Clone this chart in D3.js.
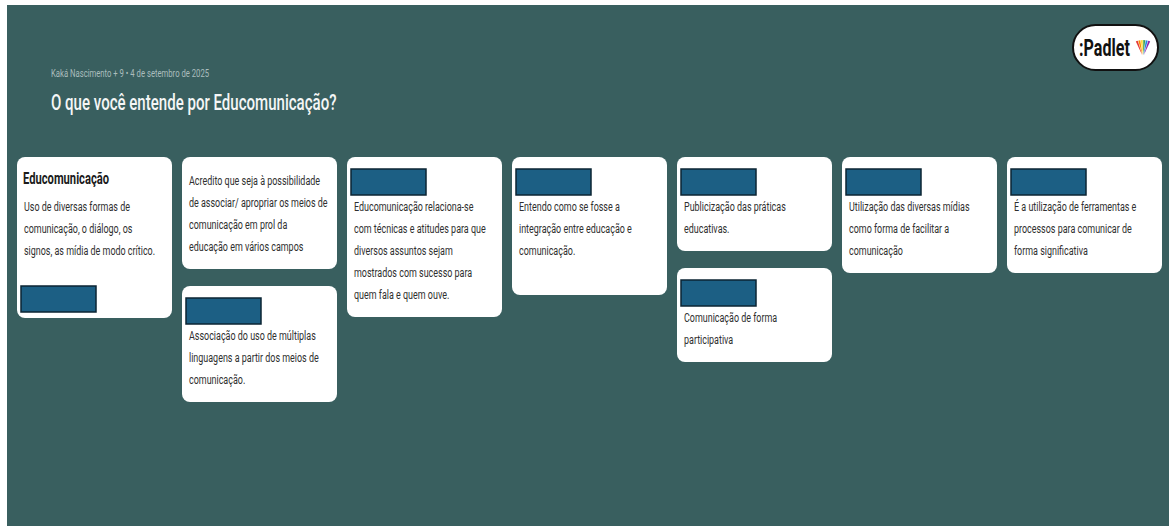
<!DOCTYPE html>
<html>
<head>
<meta charset="utf-8">
<script src="https://cdn.jsdelivr.net/npm/d3@7"></script>
<style>
  body { margin: 0; background: #fff; }
  svg { display: block; font-family: Roboto, "Noto Sans", sans-serif; }
</style>
</head>
<body>
<div class="canva"></div>
<script>
// board content
const boardAuthor = "Kaká Nascimento + 9 • 4 de setembro de 2025";
const boardTitle = "O que você entende por Educomunicação?";

const columns = [0, 1, 2, 3, 4, 5, 6];

// one entry per post
const postColumn = [0, 1, 1, 2, 3, 4, 4, 5, 6];
const postTitle = ["Educomunicação", "", "", "", "", "", "", "", ""];
// where the (hidden) author name sits
const postName = ["bottom", "none", "top", "top", "top", "top", "top", "top", "top"];
const postLines = [
  ["Uso de diversas formas de", "comunicação, o diálogo, os", "signos, as mídia de modo crítico."],
  ["Acredito que seja à possibilidade", "de associar/ apropriar os meios de", "comunicação em prol da", "educação em vários campos"],
  ["Associação do uso de múltiplas", "linguagens a partir dos meios de", "comunicação."],
  ["Educomunicação relaciona-se", "com técnicas e atitudes para que", "diversos assuntos sejam", "mostrados com sucesso para", "quem fala e quem ouve."],
  ["Entendo como se fosse a", "integração entre educação e", "comunicação.", ""],
  ["Publicização das práticas", "educativas."],
  ["Comunicação de forma", "participativa"],
  ["Utilização das diversas mídias", "como forma de facilitar a", "comunicação"],
  ["É a utilização de ferramentas e", "processos para comunicar de", "forma significativa"]
];

const logoColors = ["#e53935", "#fb8c00", "#fdd835", "#43a047", "#1e88e5", "#8e24aa"];

const W = 1169, H = 526;
const squeeze = 0.7;   // the screenshot is narrow horizontally

const svg = d3.select(".canva").append("svg")
    .attr("width", W)
    .attr("height", H);

// teal board
svg.append("rect")
    .attr("x", 7).attr("y", 5)
    .attr("width", W - 7).attr("height", H - 5)
    .attr("fill", "#395f5f");

function sText(g, x, y, txt) {
  return g.append("text")
      .attr("transform", `translate(${x},${y}) scale(${squeeze},1)`)
      .text(txt);
}

sText(svg, 51, 77, boardAuthor)
    .style("font-size", "11px")
    .attr("fill", "#aabdbd");

sText(svg, 51, 110, boardTitle)
    .style("font-size", "21.5px")
    .style("font-weight", 500)
    .attr("fill", "#f4f6f6");

// padlet logo
const logo = svg.append("g").attr("transform", "translate(1073,25)");
logo.append("rect")
    .attr("width", 85).attr("height", 45)
    .attr("rx", 22.5)
    .attr("fill", "#fff")
    .attr("stroke", "#111")
    .attr("stroke-width", 2);
sText(logo, 6, 31, ":Padlet")
    .style("font-size", "23px")
    .style("font-weight", 700)
    .attr("fill", "#111");

const pie = d3.pie().value(1).sort(null).startAngle(-0.45).endAngle(0.45);
const petal = d3.arc().innerRadius(2).outerRadius(17).padAngle(0.03);
logo.append("g")
    .attr("transform", "translate(70,32)")
    .selectAll("path")
    .data(pie(logoColors))
    .join("path")
    .attr("d", petal)
    .attr("fill", d => d.data);

// columns
const x = d3.scaleBand()
    .domain(columns)
    .range([17, 1162])
    .paddingInner(10 / 165)
    .paddingOuter(0);

const lineStep = 22;
const gap = 17;
const top0 = 157;
const nameH = 26, nameW = 75;
const baseShift = 4;

// stack posts in each column
const colBottom = columns.map(() => top0 - gap);
const posts = postLines.map((lines, i) => {
  const c = postColumn[i];
  const y0 = colBottom[c] + gap;
  let first;
  if (postTitle[i]) first = y0 + 50;
  else if (postName[i] === "top") first = y0 + 12 + nameH + 12;
  else first = y0 + 24;
  const last = first + (lines.length - 1) * lineStep;
  let bottom = last + lineStep;
  let nameY = y0 + 12;
  if (postName[i] === "bottom") {
    nameY = last + 35;
    bottom = nameY + nameH + 6;
  }
  colBottom[c] = bottom;
  return {i, c, y0, first, bottom, nameY, lines, title: postTitle[i], name: postName[i]};
});

const cards = svg.selectAll("g.post")
    .data(posts)
    .join("g")
    .attr("class", "post")
    .attr("transform", d => `translate(${x(d.c)},${d.y0})`);

cards.append("rect")
    .attr("width", x.bandwidth())
    .attr("height", d => d.bottom - d.y0)
    .attr("rx", 8)
    .attr("fill", "#fff");

cards.filter(d => d.title)
    .each(function(d) {
      sText(d3.select(this), 6, 27, d.title)
          .style("font-size", "16px")
          .style("font-weight", 700)
          .attr("fill", "#1b1b1b");
    });

cards.each(function(d) {
  const g = d3.select(this);
  d.lines.forEach((ln, k) => {
    sText(g, 7, d.first - d.y0 + k * lineStep + baseShift, ln)
        .style("font-size", "12.8px")
        .attr("fill", "#2f2f2f");
  });
});

// hidden author names
cards.filter(d => d.name !== "none")
    .append("rect")
    .attr("x", 4)
    .attr("y", d => d.nameY - d.y0)
    .attr("width", nameW)
    .attr("height", nameH)
    .attr("fill", "#1c5f84")
    .attr("stroke", "#0b2433")
    .attr("stroke-width", 1.5);
</script>
</body>
</html>
